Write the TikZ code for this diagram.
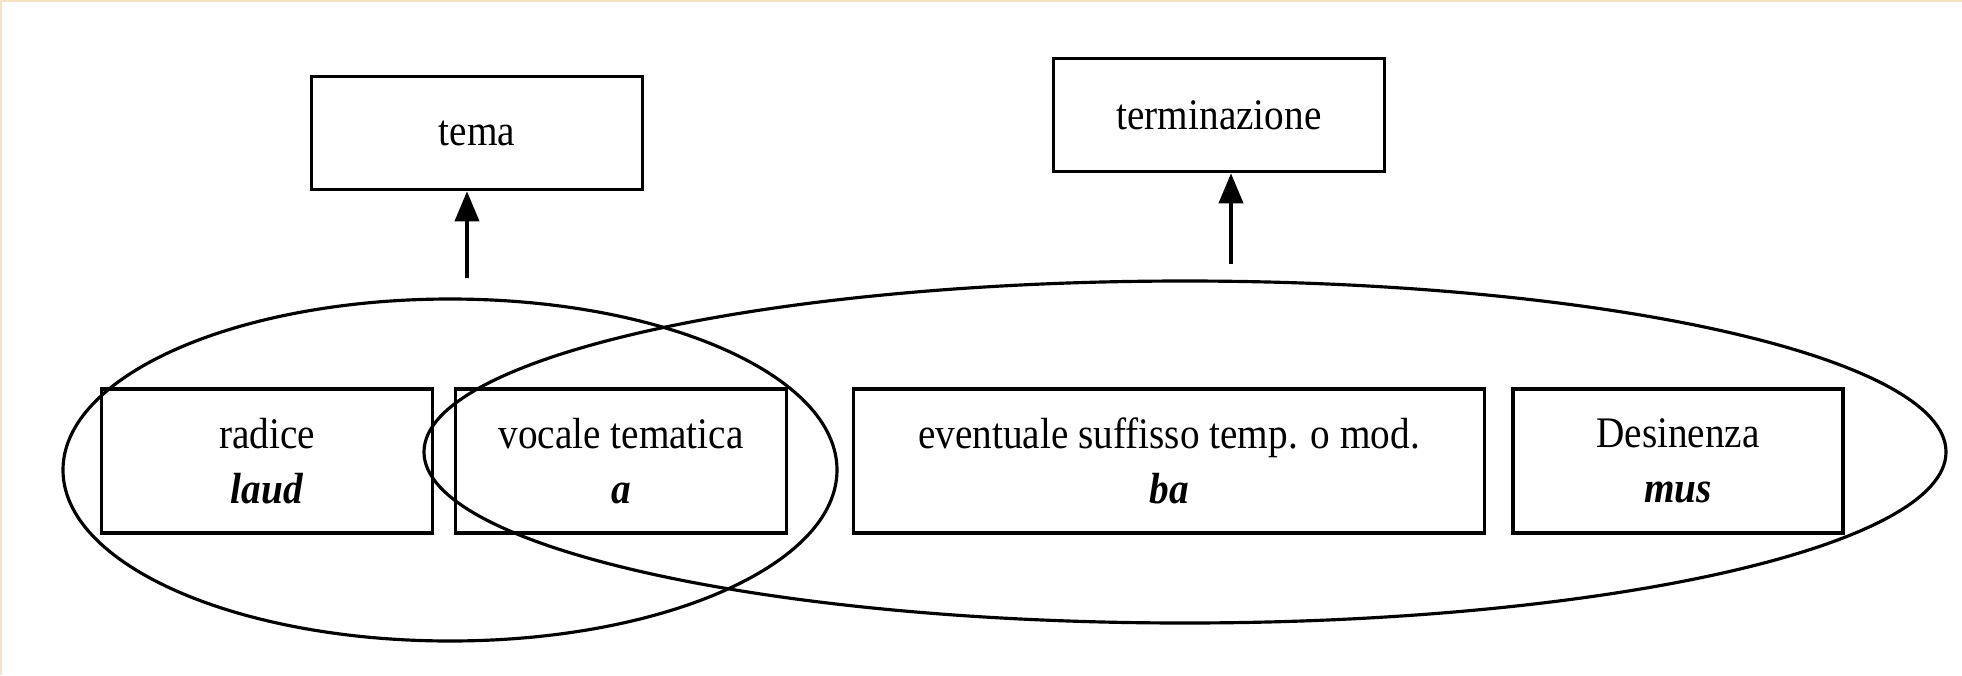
\documentclass[tikz,border=0pt]{standalone}
\usepackage{fontspec}
\setmainfont{Liberation Serif}
\newfontfamily\boxfont[FakeStretch=0.9]{Liberation Serif}
\usetikzlibrary{arrows.meta}

\begin{document}
\begin{tikzpicture}[x=0.01cm,y=-0.01cm,
    box/.style={draw,line width=1pt,align=center,inner sep=0pt,
      minimum width=3.31cm,font=\boxfont\fontsize{12.4}{15.8}\selectfont},
    part/.style={box,minimum height=1.44cm},
    head/.style={box,minimum height=1.13cm},
    arr/.style={line width=1.1pt,-{Triangle[length=0.3cm,width=0.24cm]}}]
    \useasboundingbox[fill=white] (0,0) rectangle (1962,675);
    \draw[line width=1pt,color={rgb,255:red,245;green,228;blue,196}] (0,675) -- (0,0) -- (1962,0);
    % heads
    \node[head] (tema) at (477,133) {tema};
    \node[head] (term) at (1219,115) {terminazione};
    % parts of the verb
    \node[part] (rad) at (267,461) {radice\\\textbf{\textit{laud}}};
    \node[part] (voc) at (621,461) {vocale tematica\\\textbf{\textit{a}}};
    \node[part,minimum width=6.31cm] (suf) at (1169,461) {eventuale suffisso temp. o mod.\\\textbf{\textit{ba}}};
    \node[part,minimum width=3.30cm] (des) at (1678,461) {Desinenza\\\textbf{\textit{mus}}};
    % groups
    \draw[line width=0.9pt] (450,470) ellipse [x radius=387,y radius=171];
    \draw[line width=0.9pt] (1185,452) ellipse [x radius=761,y radius=171];
    \coordinate (temaA) at (467,278);
    \coordinate (termA) at (1231,264);
    \draw[arr] (temaA) -- (temaA |- tema.south);
    \draw[arr] (termA) -- (termA |- term.south);
\end{tikzpicture}
\end{document}
